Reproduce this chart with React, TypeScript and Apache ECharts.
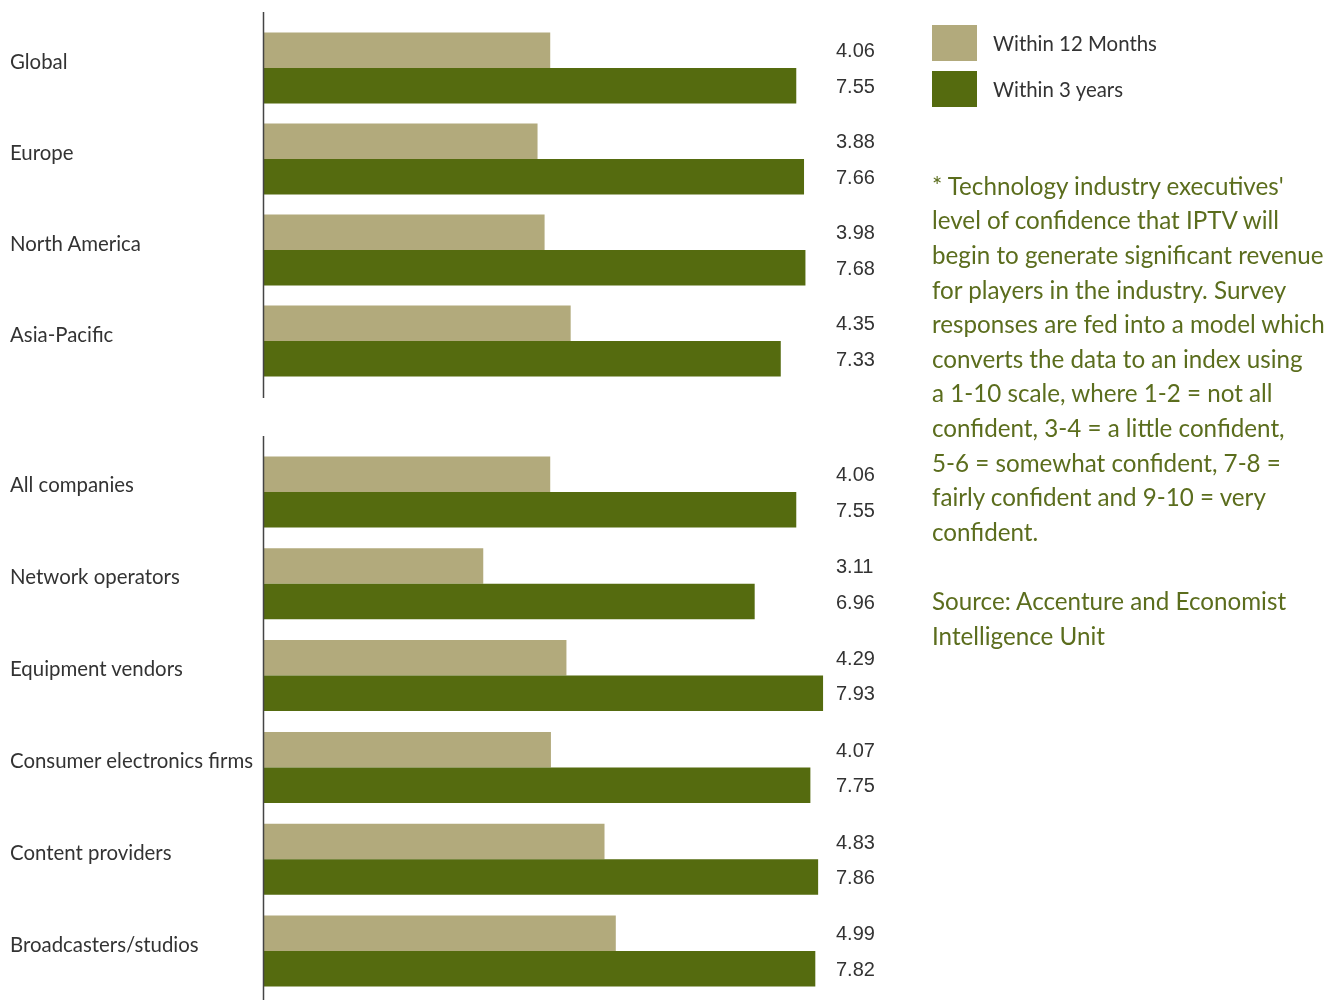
import React, { useEffect, useRef } from "react";
import * as echarts from "echarts";

const regionCategories = ["Global", "Europe", "North America", "Asia-Pacific"];
const regionWithin12Months = [4.06, 3.88, 3.98, 4.35];
const regionWithin3Years = [7.55, 7.66, 7.68, 7.33];

const companyCategories = [
  "All companies",
  "Network operators",
  "Equipment vendors",
  "Consumer electronics firms",
  "Content providers",
  "Broadcasters/studios",
];
const companyWithin12Months = [4.06, 3.11, 4.29, 4.07, 4.83, 4.99];
const companyWithin3Years = [7.55, 6.96, 7.93, 7.75, 7.86, 7.82];

const seriesNames = ["Within 12 Months", "Within 3 years"];

const noteLines = [
  "* Technology industry executives'",
  "level of confidence that IPTV will",
  "begin to generate significant revenue",
  "for players in the industry. Survey",
  "responses are fed into a model which",
  "converts the data to an index using",
  "a 1-10 scale, where 1-2 = not all",
  "confident, 3-4 = a little confident,",
  "5-6 = somewhat confident, 7-8 =",
  "fairly confident and 9-10 = very",
  "confident.",
  "",
  "Source: Accenture and Economist",
  "Intelligence Unit",
];

const LIGHT = "#b2aa7c";
const DARK = "#556b0f";
const LABEL_FONT = "Lato";

export default function App() {
  const ref = useRef<HTMLDivElement>(null);

  useEffect(() => {
    if (!ref.current) return;
    const chart = echarts.init(ref.current, undefined, { renderer: "svg" });

    const valueLabel = {
      show: true,
      position: [572, "50%"] as any,
      align: "left",
      verticalAlign: "middle",
      fontFamily: "Liberation Sans",
      fontSize: 20,
      color: "#333333",
      formatter: (p: any) => Number(p.value).toFixed(2),
    };

    const yAxisBase = (data: string[], gridIndex: number) => ({
      gridIndex,
      type: "category",
      data,
      inverse: true,
      axisLine: { show: false },
      axisTick: { show: false },
      splitLine: { show: false },
      axisLabel: {
        margin: 254,
        align: "left",
        verticalAlign: "bottom",
        lineHeight: 15,
        fontFamily: LABEL_FONT,
        fontSize: 20.4,
        color: "#333333",
      },
    });

    const mkBar = (name: string, data: number[], idx: number, color: string) => ({
      name,
      type: "bar",
      xAxisIndex: idx,
      yAxisIndex: idx,
      data,
      barWidth: 35.5,
      barGap: "0%",
      itemStyle: { color },
      label: valueLabel,
      emphasis: { disabled: true },
    });

    chart.setOption({
      animation: false,
      grid: [
        { left: 264, top: 22.5, width: 705, height: 364 },
        { left: 264, top: 446, width: 705, height: 551 },
      ],
      xAxis: [
        { gridIndex: 0, type: "value", min: 0, max: 10, show: false },
        { gridIndex: 1, type: "value", min: 0, max: 10, show: false },
      ],
      yAxis: [yAxisBase(regionCategories, 0), yAxisBase(companyCategories, 1)],
      legend: {
        orient: "vertical",
        left: 932,
        top: 25,
        padding: 0,
        itemWidth: 45,
        itemHeight: 36,
        itemGap: 10,
        icon: "rect",
        selectedMode: false,
        data: seriesNames,
        textStyle: {
          fontFamily: LABEL_FONT,
          fontSize: 20.4,
          color: "#333333",
          padding: [0, 0, 0, 11],
        },
      },
      series: [
        mkBar(seriesNames[0], regionWithin12Months, 0, LIGHT),
        mkBar(seriesNames[1], regionWithin3Years, 0, DARK),
        mkBar(seriesNames[0], companyWithin12Months, 1, LIGHT),
        mkBar(seriesNames[1], companyWithin3Years, 1, DARK),
      ],
      graphic: [
        {
          type: "line",
          z: 10,
          shape: { x1: 263.5, y1: 12, x2: 263.5, y2: 398 },
          style: { stroke: "#444444", lineWidth: 1.5 },
        },
        {
          type: "line",
          z: 10,
          shape: { x1: 263.5, y1: 436, x2: 263.5, y2: 1000 },
          style: { stroke: "#444444", lineWidth: 1.5 },
        },
        {
          type: "text",
          left: 932,
          top: 168,
          style: {
            text: noteLines.join("\n"),
            fontFamily: LABEL_FONT,
            fontSize: 24.2,
            lineHeight: 34.6,
            fill: "#5b6d1d",
          },
        },
      ],
    });

    return () => chart.dispose();
  }, []);

  return (
    <div
      ref={ref}
      style={{ position: "fixed", left: 0, top: 0, width: 1327, height: 1000 }}
    />
  );
}
